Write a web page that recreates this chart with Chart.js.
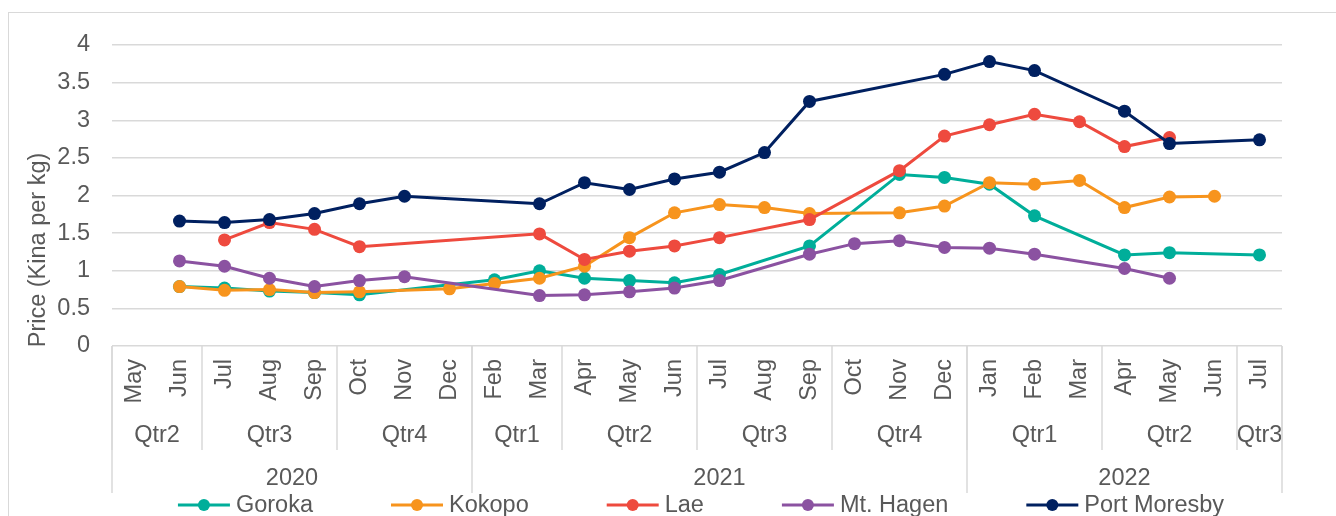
<!DOCTYPE html>
<html>
<head>
<meta charset="utf-8">
<script src="https://cdn.jsdelivr.net/npm/chart.js@4"></script>
<style>
    html, body { margin: 0; padding: 0; background: #fff; overflow: hidden; }
    #frame {
        position: absolute; left: 8px; top: 12px;
        width: 1378px; height: 520px;
        border: 1px solid #d9d9d9;
    }
    #frame canvas { display: block; }
</style>
</head>
<body>
<div id="frame"><canvas id="priceChart" width="1378" height="520"></canvas></div>
<script>
const months = ['May', 'Jun', 'Jul', 'Aug', 'Sep', 'Oct', 'Nov', 'Dec', 'Feb', 'Mar',
    'Apr', 'May', 'Jun', 'Jul', 'Aug', 'Sep', 'Oct', 'Nov', 'Dec',
    'Jan', 'Feb', 'Mar', 'Apr', 'May', 'Jun', 'Jul'];
const quarterLabels = ['Qtr2', 'Qtr3', 'Qtr4', 'Qtr1', 'Qtr2', 'Qtr3', 'Qtr4', 'Qtr1', 'Qtr2', 'Qtr3'];
const quarterSpans  = [2, 3, 3, 2, 3, 3, 3, 3, 3, 1];
const yearLabels = ['2020', '2021', '2022'];
const yearSpans  = [8, 11, 7];
const yTickLabels = ['0', '0.5', '1', '1.5', '2', '2.5', '3', '3.5', '4'];

const goroka      = [null, 0.79, 0.77, 0.73, 0.71, 0.68, null, null, 0.88, 1.00, 0.90, 0.87, 0.84, 0.95, null, 1.33, null, 2.28, 2.24, 2.15, 1.73, null, 1.21, 1.24, null, 1.21];
const kokopo      = [null, 0.79, 0.74, 0.75, 0.71, 0.72, null, 0.76, 0.83, 0.90, 1.06, 1.44, 1.77, 1.88, 1.84, 1.76, null, 1.77, 1.86, 2.17, 2.15, 2.20, 1.84, 1.98, 1.99, null];
const lae         = [null, null, 1.41, 1.64, 1.55, 1.32, null, null, null, 1.49, 1.15, 1.26, 1.33, 1.44, null, 1.68, null, 2.33, 2.79, 2.94, 3.08, 2.98, 2.65, 2.77, null, null];
const mtHagen     = [null, 1.13, 1.06, 0.90, 0.79, 0.87, 0.92, null, null, 0.67, 0.68, 0.72, 0.77, 0.87, null, 1.22, 1.36, 1.40, 1.31, 1.30, 1.22, null, 1.03, 0.90, null, null];
const portMoresby = [null, 1.66, 1.64, 1.68, 1.76, 1.89, 1.99, null, null, 1.89, 2.17, 2.08, 2.22, 2.31, 2.57, 3.25, null, null, 3.61, 3.78, 3.66, null, 3.12, 2.69, null, 2.74];

const FONT = '23.5px "Liberation Sans", Arial, sans-serif';
const TEXT = '#595959';
const LINE_GREY = '#d9d9d9';

function series(label, data, color, order) {
    return {
        label: label,
        data: data,
        borderColor: color,
        backgroundColor: color,
        pointBackgroundColor: color,
        pointBorderColor: color,
        pointRadius: 6.5,
        pointBorderWidth: 0,
        borderWidth: 3,
        tension: 0,
        spanGaps: true,
        order: order // later cities sit on top, as in the picture
    };
}

// Draws the month / quarter / year axis, the y title and the legend
const multiLevelAxis = {
    id: 'multiLevelAxis',
    afterDraw(chart) {
        const ctx = chart.ctx;
        const x = chart.scales.x;
        const area = chart.chartArea;
        const edge = k => x.getPixelForValue(k - 0.5);

        ctx.save();
        ctx.font = FONT;
        ctx.fillStyle = TEXT;

        // month labels, rotated
        months.forEach((m, i) => {
            ctx.save();
            ctx.translate(x.getPixelForValue(i), 346);
            ctx.rotate(-Math.PI / 2);
            ctx.textAlign = 'right';
            ctx.textBaseline = 'middle';
            ctx.fillText(m, 0, 0);
            ctx.restore();
        });

        ctx.strokeStyle = LINE_GREY;
        ctx.lineWidth = 1.5;

        // quarter row
        let k = 0;
        ctx.textAlign = 'center';
        ctx.textBaseline = 'middle';
        quarterLabels.forEach((q, i) => {
            const a = edge(k), b = edge(k + quarterSpans[i]);
            ctx.fillText(q, (a + b) / 2, 423);
            ctx.beginPath();
            ctx.moveTo(a, area.bottom);
            ctx.lineTo(a, 437);
            ctx.stroke();
            k += quarterSpans[i];
        });
        ctx.beginPath();
        ctx.moveTo(edge(k), area.bottom);
        ctx.lineTo(edge(k), 437);
        ctx.stroke();

        // year row
        k = 0;
        yearLabels.forEach((yr, i) => {
            const a = edge(k), b = edge(k + yearSpans[i]);
            ctx.fillText(yr, (a + b) / 2, 466);
            ctx.beginPath();
            ctx.moveTo(a, area.bottom);
            ctx.lineTo(a, 480);
            ctx.stroke();
            k += yearSpans[i];
        });
        ctx.beginPath();
        ctx.moveTo(edge(k), area.bottom);
        ctx.lineTo(edge(k), 480);
        ctx.stroke();

        // y axis title
        ctx.save();
        ctx.translate(30, 237);
        ctx.rotate(-Math.PI / 2);
        ctx.textAlign = 'center';
        ctx.textBaseline = 'middle';
        ctx.fillText('Price (Kina per kg)', 0, 0);
        ctx.restore();

        // legend
        const sets = chart.data.datasets;
        const lineLen = 52, textGap = 6, itemGap = 78;
        const widths = sets.map(d => lineLen + textGap + ctx.measureText(d.label).width);
        const total = widths.reduce((s, w) => s + w, 0) + itemGap * (sets.length - 1);
        let lx = (area.left + area.right) / 2 + 4 - total / 2;
        const ly = 492;
        ctx.textAlign = 'left';
        sets.forEach((d, i) => {
            ctx.strokeStyle = d.borderColor;
            ctx.lineWidth = 3;
            ctx.beginPath();
            ctx.moveTo(lx, ly);
            ctx.lineTo(lx + lineLen, ly);
            ctx.stroke();
            ctx.fillStyle = d.borderColor;
            ctx.beginPath();
            ctx.arc(lx + lineLen / 2, ly, 6, 0, Math.PI * 2);
            ctx.fill();
            ctx.fillStyle = TEXT;
            ctx.fillText(d.label, lx + lineLen + textGap, ly + 1);
            lx += widths[i] + itemGap;
        });
        ctx.restore();
    }
};

const ctx = document.getElementById('priceChart').getContext('2d');
new Chart(ctx, {
    type: 'line',
    data: {
        labels: months,
        datasets: [
            series('Goroka', goroka, '#00AE9A', 5),
            series('Kokopo', kokopo, '#F7941D', 4),
            series('Lae', lae, '#EE4A3E', 3),
            series('Mt. Hagen', mtHagen, '#8B52A1', 2),
            series('Port Moresby', portMoresby, '#002060', 1)
        ]
    },
    options: {
        responsive: false,
        animation: false,
        layout: { padding: { left: 0, right: 105, top: 32, bottom: 179 } },
        scales: {
            x: {
                offset: true,
                ticks: { display: false },
                grid: { display: false },
                border: { display: false }
            },
            y: {
                min: 0,
                max: 4,
                afterFit: (scale) => {
                    scale.width = 103;
                    // tick padding would otherwise push the plot top down
                    scale.paddingTop = 12;
                    scale.paddingBottom = 12;
                },
                ticks: {
                    stepSize: 0.5,
                    padding: 22,
                    color: TEXT,
                    font: { family: '"Liberation Sans", Arial, sans-serif', size: 23.5 },
                    callback: (value, i) => yTickLabels[i]
                },
                grid: { color: LINE_GREY, lineWidth: 1.5, drawTicks: false },
                border: { display: false }
            }
        },
        plugins: {
            legend: { display: false },
            tooltip: { enabled: false }
        }
    },
    plugins: [multiLevelAxis]
});
</script>
</body>
</html>
